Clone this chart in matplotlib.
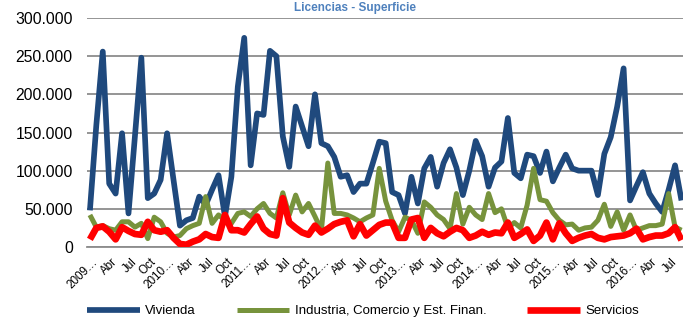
import matplotlib
matplotlib.use("Agg")
import matplotlib.pyplot as plt
import matplotlib.transforms as mtransforms
import numpy as np

plt.rcParams['font.family'] = ['Liberation Sans', 'DejaVu Sans']

# Monthly data, Jan 2009 - Sep 2016 (thousands)
vivienda_k = [48, 160, 256, 83, 70, 149, 44, 145, 248, 64, 70, 88,
              149, 88, 28, 35, 38, 66, 55, 75, 94, 40, 92, 210,
              274, 107, 175, 173, 257, 250, 145, 105, 184, 158, 132, 200,
              136, 132, 118, 92, 94, 72, 83, 83, 110, 138, 136, 72,
              68, 44, 92, 57, 103, 118, 79, 110, 128, 104, 68, 100,
              139, 119, 79, 104, 112, 169, 97, 90, 121, 119, 97, 125,
              86, 104, 121, 103, 100, 100, 100, 68, 122, 144, 184, 234,
              61, 80, 98, 70, 57, 46, 75, 107, 61]
industria_k = [42, 26, 28, 24, 22, 33, 33, 26, 31, 11, 39, 33,
               18, 13, 15, 24, 28, 31, 66, 31, 42, 35, 31, 44,
               46, 40, 50, 57, 44, 38, 71, 42, 68, 46, 57, 40,
               22, 110, 44, 44, 42, 38, 33, 38, 42, 103, 60, 35,
               20, 39, 35, 18, 59, 52, 42, 36, 24, 70, 30, 52,
               42, 36, 70, 45, 50, 25, 32, 25, 55, 103, 62, 60,
               45, 35, 29, 30, 22, 25, 26, 35, 56, 27, 46, 22,
               42, 22, 25, 28, 28, 30, 70, 26, 22]
servicios_k = [10, 25, 27, 20, 10, 26, 21, 17, 16, 33, 22, 20,
               22, 12, 4, 3, 7, 10, 17, 13, 12, 42, 22, 22,
               19, 30, 40, 24, 17, 15, 64, 32, 25, 19, 16, 28,
               19, 24, 30, 33, 35, 14, 30, 15, 22, 29, 32, 32,
               12, 12, 36, 38, 12, 25, 18, 14, 20, 25, 22, 12,
               15, 20, 16, 19, 18, 32, 12, 17, 23, 8, 15, 32,
               10, 31, 18, 8, 12, 15, 17, 12, 10, 13, 14, 15,
               18, 24, 10, 13, 15, 15, 18, 26, 9]

vivienda = [v * 1000 for v in vivienda_k]
industria = [v * 1000 for v in industria_k]
servicios = [v * 1000 for v in servicios_k]

years = [2009, 2010, 2011, 2012, 2013, 2014, 2015, 2016]
quarter_names = ["Abr", "Jul", "Oct"]
series_labels = ["Vivienda", "Industria, Comercio y Est. Finan.", "Servicios"]
colors = ["#1F497D", "#77933C", "#FF0000"]
title_text = "Licencias - Superficie"

n = len(vivienda)
x = np.arange(n)

W, H = 683, 318
fig = plt.figure(figsize=(W / 100, H / 100), dpi=100)
left_px, right_px, top_px, bot_px = 86.7, 684.7, 18.0, 247.0
ax = fig.add_axes([left_px / W, 1 - bot_px / H, (right_px - left_px) / W, (bot_px - top_px) / H])

for yv, lab, c, lw in zip([vivienda, industria, servicios], series_labels, colors, [4.1, 3.6, 4.8]):
    ax.plot(x, yv, color=c, lw=lw, label=lab, solid_joinstyle='round', solid_capstyle='butt', zorder=3)

ax.set_xlim(-0.5, n - 0.5)
ax.set_ylim(0, 300000)
ax.set_yticks(np.arange(0, 300001, 50000))
ax.set_yticklabels(["0" if v == 0 else f"{v:,}".replace(",", ".") for v in range(0, 300001, 50000)])
ax.yaxis.grid(True, color="#8C8C8C", lw=1.3)
ax.set_axisbelow(True)
for s in ["left", "right", "top"]:
    ax.spines[s].set_visible(False)
ax.spines["bottom"].set_color("#8C8C8C")
ax.spines["bottom"].set_linewidth(1.3)
ax.tick_params(axis="y", length=0, pad=10, labelsize=11.3, colors="#000000")
ax.tick_params(axis="x", length=0, pad=6.5, labelsize=8.4, colors="#000000")

ticks, labels = [], []
for i in range(0, n, 3):
    yr = years[i // 12]
    q = (i % 12) // 3
    ticks.append(i)
    labels.append(f"{yr}\u2026" if q == 0 else quarter_names[q - 1])
ax.set_xticks(ticks)
ax.set_xticklabels(labels, rotation=45, ha="right", va="top", rotation_mode="anchor")
offset = mtransforms.ScaledTranslation(2 / 100, 0, fig.dpi_scale_trans)
for lbl in ax.get_xticklabels():
    lbl.set_transform(lbl.get_transform() + offset)

fig.legend(loc="center left", bbox_to_anchor=(87 / W, 1 - 311 / H), ncol=3, frameon=False,
           fontsize=9.5, handlelength=4.0, handletextpad=0.4, columnspacing=3.1,
           borderpad=0, borderaxespad=0)

fig.text(355 / W, 1 - 2 / H, title_text, ha="center", va="top", fontsize=8.5,
         fontweight="bold", color="#4F81BD")

fig.savefig("out.png", dpi=100)
